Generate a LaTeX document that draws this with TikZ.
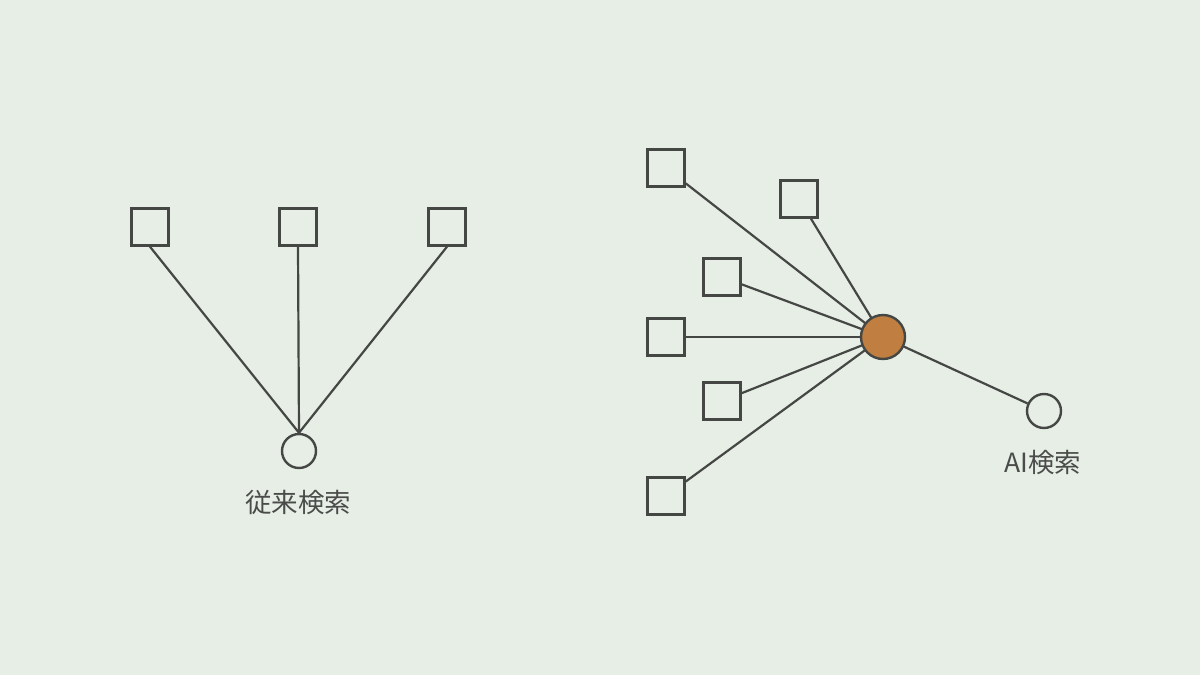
\documentclass[tikz,border=0pt]{standalone}
\usepackage{fontspec}
\setmainfont{Noto Sans CJK JP}
\begin{document}
\begin{tikzpicture}[x=1pt,y=-1pt,
  box/.style={draw=linec, line width=2.4pt, fill=bgc, minimum size=37pt, inner sep=0pt},
  ring/.style={draw=linec, line width=2.4pt, fill=bgc, circle, minimum size=34pt, inner sep=0pt},
  hub/.style={draw=linec, line width=2.4pt, fill=hubc, circle, minimum size=44pt, inner sep=0pt},
  edge/.style={draw=linec, line width=2.2pt},
  lbl/.style={text=textc, font=\fontsize{26.5pt}{30pt}\selectfont, inner sep=0pt}]
\definecolor{bgc}{HTML}{E7EEE6}
\definecolor{linec}{HTML}{454745}
\definecolor{hubc}{HTML}{C07F41}
\definecolor{textc}{HTML}{4A4C4A}
\fill[bgc] (0,0) rectangle (1200,675);
\useasboundingbox (0,0) rectangle (1200,675);
% left
\node[ring] (lc) at (299,451) {};
\node[box] (l1) at (150,227) {};
\node[box] (l2) at (298,227) {};
\node[box] (l3) at (447,227) {};
\draw[edge] (l1.south) -- (lc.north);
\draw[edge] (l2.south) -- (lc.north);
\draw[edge] (l3.south) -- (lc.north);
\node[lbl] (lt) at (298,502) {従来検索};
% right
\node[box] (r1) at (666,168) {};
\node[box] (r2) at (799,199) {};
\node[box] (r3) at (722,277) {};
\node[box] (r4) at (666,337) {};
\node[box] (r5) at (722,401) {};
\node[box] (r6) at (666,496) {};
\node[ring] (rc) at (1044,411) {};
\foreach \n in {r1,r2,r3,r4,r5,r6}
  \draw[edge] (\n) -- (883,337);
\draw[edge] (883,337) -- (rc);
\node[hub] (hub) at (883,337) {};
\node[lbl] (rt) at (1043,462) {AI検索};
\end{tikzpicture}
\end{document}
